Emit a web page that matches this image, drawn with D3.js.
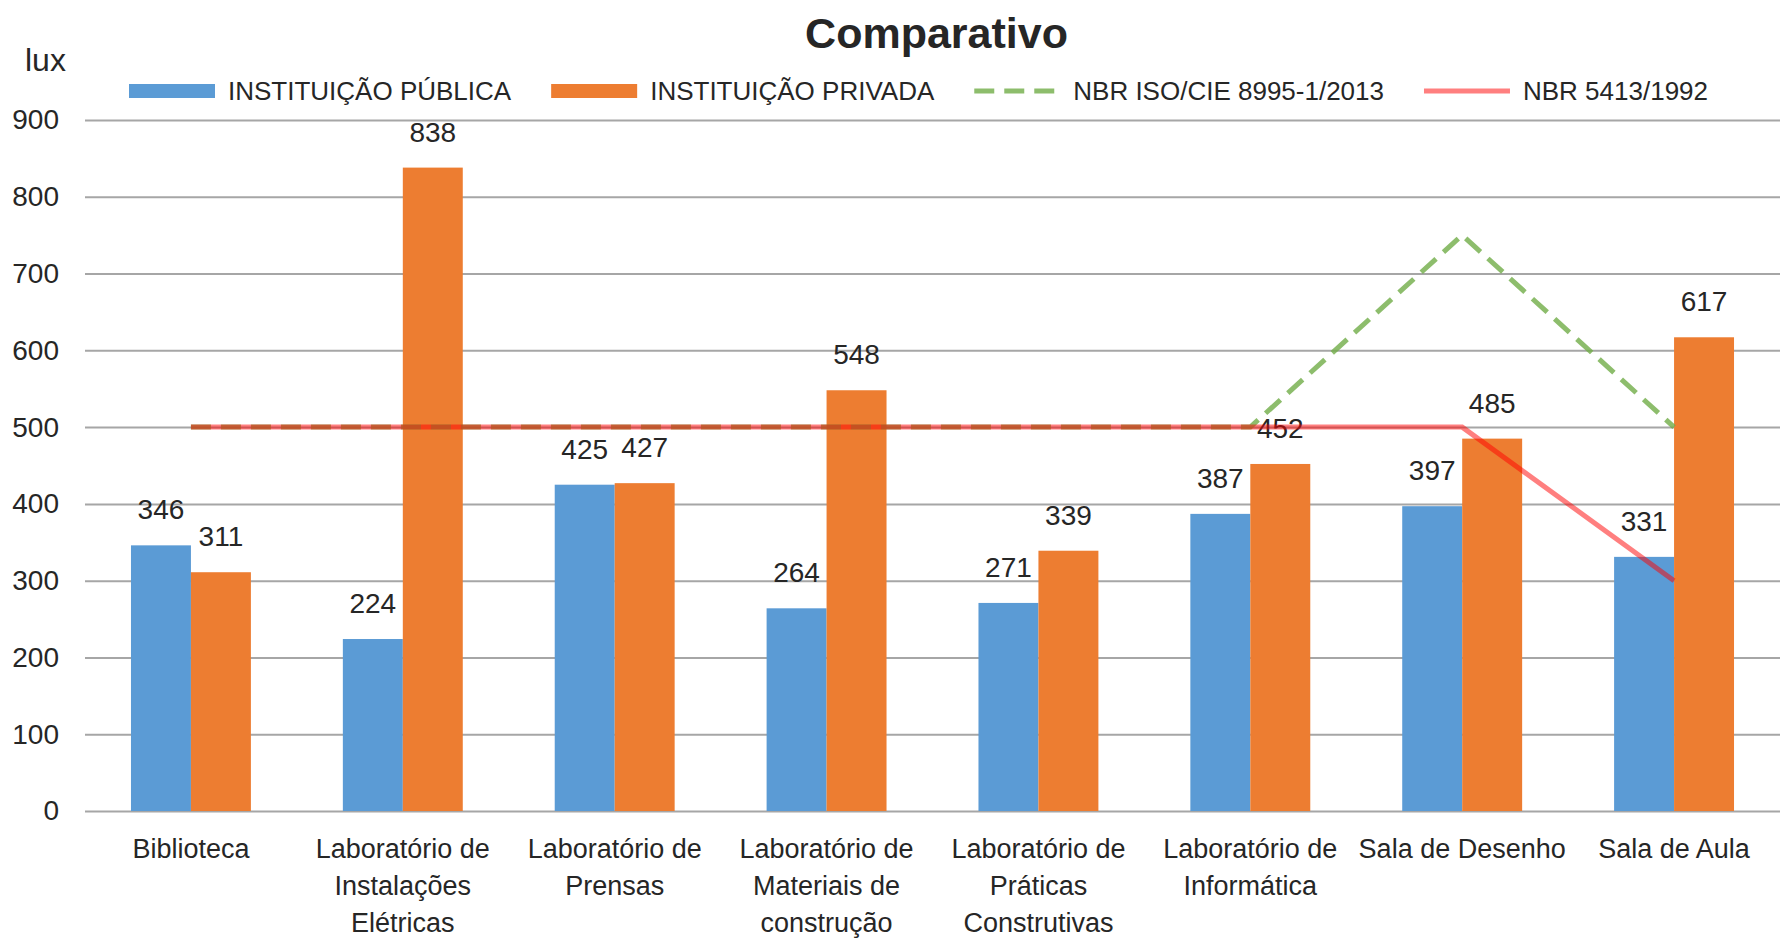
<!DOCTYPE html>
<html>
<head>
<meta charset="utf-8">
<script src="https://cdn.jsdelivr.net/npm/d3@7"></script>
<style>
  body { margin: 0; background: #fff; }
  text { font-family: "Liberation Sans", Arial, sans-serif; fill: #262626; }
</style>
</head>
<body>
<div id="chart"></div>
<script>
// Data
const categories = [
    "Biblioteca",
    "Laboratório de\nInstalações\nElétricas",
    "Laboratório de\nPrensas",
    "Laboratório de\nMateriais de\nconstrução",
    "Laboratório de\nPráticas\nConstrutivas",
    "Laboratório de\nInformática",
    "Sala de Desenho",
    "Sala de Aula"
];
const seriesNames = ["INSTITUIÇÃO PÚBLICA", "INSTITUIÇÃO PRIVADA"];
const publica = [346, 224, 425, 264, 271, 387, 397, 331];
const privada = [311, 838, 427, 548, 339, 452, 485, 617];
const lineNames = ["NBR ISO/CIE 8995-1/2013", "NBR 5413/1992"];
const nbrIso = [500, 500, 500, 500, 500, 500, 750, 500];
const nbr5413 = [500, 500, 500, 500, 500, 500, 500, 300];
const yTicks = [0, 100, 200, 300, 400, 500, 600, 700, 800, 900];

const W = 1786, H = 942;
const margin = {top: 120, right: 6, bottom: 131, left: 85};
const colors = {pub: "#5b9bd5", priv: "#ed7d31", iso: "#70ad47", nbr: "#ff0000"};

const svg = d3.select("#chart")
    .append("svg")
    .attr("width", W)
    .attr("height", H);

// Scales
const x = d3.scaleBand()
    .domain(categories)
    .range([margin.left, W - margin.right])
    .paddingInner(0.434)
    .paddingOuter(0.217);

const x1 = d3.scaleBand()
    .domain([0, 1])
    .range([0, x.bandwidth()]);

const y = d3.scaleLinear()
    .domain([0, 900])
    .range([H - margin.bottom, margin.top]);

// Gridlines + y labels
const yAxis = svg.append("g")
    .attr("transform", "translate(" + margin.left + ",0)")
    .call(d3.axisLeft(y).tickValues(yTicks).tickSize(-(W - margin.left - margin.right)).tickPadding(26));
yAxis.select(".domain").remove();
yAxis.selectAll(".tick line").attr("stroke", "#a6a6a6").attr("stroke-width", 2);
yAxis.selectAll("text")
    .style("font-family", "'Liberation Sans', Arial, sans-serif")
    .style("font-size", "28px")
    .attr("fill", "#262626");

// Bars
const rows = categories.map((c, i) => ({cat: c, vals: [publica[i], privada[i]]}));
const groups = svg.selectAll(".grp")
    .data(rows)
    .enter()
    .append("g")
    .attr("transform", d => "translate(" + x(d.cat) + ",0)");

groups.selectAll("rect")
    .data(d => d.vals)
    .enter()
    .append("rect")
    .attr("x", (d, i) => x1(i))
    .attr("y", d => y(d))
    .attr("width", x1.bandwidth())
    .attr("height", d => y(0) - y(d))
    .attr("fill", (d, i) => i == 0 ? colors.pub : colors.priv);

// Reference lines
const line = d3.line()
    .x((d, i) => x(categories[i]) + x.bandwidth() / 2)
    .y(d => y(d));

svg.append("path")
    .datum(nbrIso)
    .attr("d", line)
    .attr("fill", "none")
    .attr("stroke", colors.iso)
    .attr("stroke-opacity", 0.8)
    .attr("stroke-width", 5)
    .attr("stroke-dasharray", "20,10");

svg.append("path")
    .datum(nbr5413)
    .attr("d", line)
    .attr("fill", "none")
    .attr("stroke", colors.nbr)
    .attr("stroke-opacity", 0.5)
    .attr("stroke-width", 5);

// Value labels
groups.selectAll(".val")
    .data(d => d.vals)
    .enter()
    .append("text")
    .attr("x", (d, i) => x1(i) + x1.bandwidth() / 2)
    .attr("y", d => y(d) - 26)
    .attr("text-anchor", "middle")
    .style("font-size", "28px")
    .text(d => d);

// Category labels
const xAxis = svg.append("g")
    .attr("transform", "translate(0," + y(0) + ")")
    .call(d3.axisBottom(x).tickSize(0).tickFormat(""));
xAxis.select(".domain").remove();
xAxis.selectAll(".tick").each(function(d) {
    const t = d3.select(this).append("text")
        .attr("text-anchor", "middle")
        .style("font-size", "27px")
        .attr("fill", "#262626");
    d.split("\n").forEach((s, k) => {
        t.append("tspan").attr("x", 0).attr("y", 47 + k * 37).text(s);
    });
});

// Title and unit
svg.append("text")
    .attr("x", (margin.left + W - margin.right) / 2 + 4)
    .attr("y", 48)
    .attr("text-anchor", "middle")
    .style("font-size", "43px")
    .style("font-weight", "bold")
    .attr("fill", "#000")
    .text("Comparativo");

svg.append("text")
    .attr("x", 25)
    .attr("y", 71)
    .style("font-size", "32px")
    .text("lux");

// Legend
const legendItems = [
    {name: seriesNames[0], type: "bar", color: colors.pub},
    {name: seriesNames[1], type: "bar", color: colors.priv},
    {name: lineNames[0], type: "dash", color: colors.iso},
    {name: lineNames[1], type: "line", color: colors.nbr}
];
let lx = 129;
const ly = 91;
legendItems.forEach(item => {
    const g = svg.append("g").attr("transform", "translate(" + lx + "," + ly + ")");
    if (item.type == "bar") {
        g.append("rect").attr("x", 0).attr("y", -7).attr("width", 86).attr("height", 14).attr("fill", item.color);
    } else {
        g.append("line").attr("x1", 0).attr("x2", 86).attr("y1", 0).attr("y2", 0)
            .attr("stroke", item.color)
            .attr("stroke-width", 5)
            .attr("stroke-opacity", item.type == "dash" ? 0.8 : 0.5)
            .attr("stroke-dasharray", item.type == "dash" ? "20,10" : null);
    }
    const t = g.append("text")
        .attr("x", 99)
        .attr("y", 9)
        .style("font-size", "26px")
        .text(item.name);
    lx += 99 + t.node().getComputedTextLength() + 40;
});
</script>
</body>
</html>
